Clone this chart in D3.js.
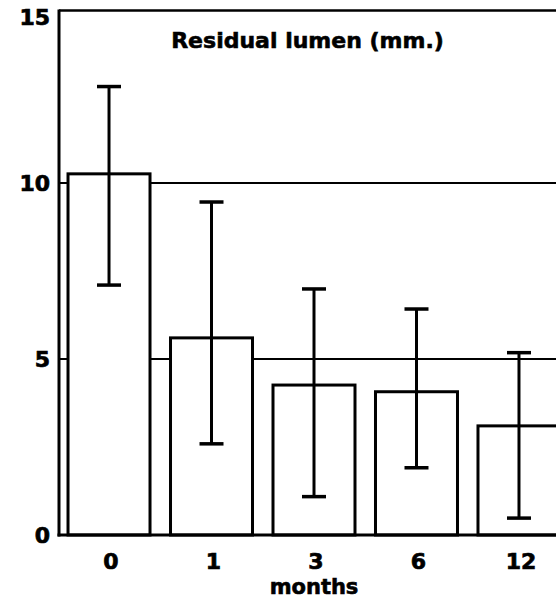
<!DOCTYPE html>
<html>
<head>
<meta charset="utf-8">
<script src="https://cdn.jsdelivr.net/npm/d3@7/dist/d3.min.js"></script>
<style>
  html, body { margin: 0; padding: 0; background: #fff; }
  svg { display: block; }
  text { font-family: "DejaVu Sans", sans-serif; font-weight: bold; fill: #000; }
</style>
</head>
<body>
<script>
// ---- data ----
const categories = ["0", "1", "3", "6", "12"];
const meanValues = [10.26, 5.6, 4.26, 4.07, 3.1];
const upperValues = [12.74, 9.46, 6.99, 6.42, 5.18];
const lowerValues = [7.1, 2.59, 1.09, 1.91, 0.48];
const yTicks = [0, 5, 10, 15];
const gridValues = [5, 10];
const titleText = "Residual lumen (mm.)";
const xAxisLabel = "months";

// ---- layout ----
const W = 556, H = 599;
const svg = d3.select("body").append("svg").attr("width", W).attr("height", H);

const x = d3.scaleBand()
  .domain(categories)
  .range([59, 569])
  .paddingInner(0.2)
  .paddingOuter(0.088);

const y = d3.scaleLinear().domain([0, 15]).range([535, 7]);
const frameY = y(14.9);

const data = categories.map((c, i) => ({
  c, v: meanValues[i], hi: upperValues[i], lo: lowerValues[i]
}));

// top frame line
svg.append("line")
  .attr("x1", x.range()[0]).attr("x2", W)
  .attr("y1", frameY).attr("y2", frameY)
  .attr("stroke", "#000").attr("stroke-width", 2.5);

// gridlines behind bars
svg.selectAll("line.grid").data(gridValues).join("line")
  .attr("class", "grid")
  .attr("x1", x.range()[0]).attr("x2", W)
  .attr("y1", d => y(d)).attr("y2", d => y(d))
  .attr("stroke", "#000").attr("stroke-width", 2.2);

// bars
svg.selectAll("rect.bar").data(data).join("rect")
  .attr("class", "bar")
  .attr("x", d => x(d.c))
  .attr("y", d => y(d.v))
  .attr("width", x.bandwidth())
  .attr("height", d => y(0) - y(d.v))
  .attr("fill", "#fff")
  .attr("stroke", "#000")
  .attr("stroke-width", 3);

// error bars
const cx = d => x(d.c) + x.bandwidth() / 2;
const capW = 24;
const eb = svg.selectAll("g.err").data(data).join("g").attr("class", "err");
eb.append("line")
  .attr("x1", cx).attr("x2", cx)
  .attr("y1", d => y(d.hi)).attr("y2", d => y(d.lo))
  .attr("stroke", "#000").attr("stroke-width", 3);
eb.append("line")
  .attr("x1", d => cx(d) - capW / 2).attr("x2", d => cx(d) + capW / 2)
  .attr("y1", d => y(d.hi)).attr("y2", d => y(d.hi))
  .attr("stroke", "#000").attr("stroke-width", 3.5);
eb.append("line")
  .attr("x1", d => cx(d) - capW / 2).attr("x2", d => cx(d) + capW / 2)
  .attr("y1", d => y(d.lo)).attr("y2", d => y(d.lo))
  .attr("stroke", "#000").attr("stroke-width", 3.5);

// axes spines
svg.append("line")
  .attr("x1", x.range()[0]).attr("x2", x.range()[0])
  .attr("y1", frameY - 1).attr("y2", y(0) + 1.5)
  .attr("stroke", "#000").attr("stroke-width", 3);
svg.append("line")
  .attr("x1", x.range()[0] - 1.5).attr("x2", W)
  .attr("y1", y(0)).attr("y2", y(0))
  .attr("stroke", "#000").attr("stroke-width", 3);

// y axis labels via d3 axis
const yAxis = d3.axisLeft(y).tickValues(yTicks).tickSize(0).tickPadding(9).tickFormat(d3.format("d"));
const gy = svg.append("g").attr("transform", `translate(${x.range()[0]},0)`).call(yAxis);
gy.select(".domain").remove();
gy.selectAll("text")
  .attr("font-size", 22).attr("font-family", "DejaVu Sans").attr("font-weight", "bold")
  .attr("fill", "#000").attr("stroke", "#000").attr("stroke-width", 0.7);
gy.selectAll(".tick").filter(d => d === 15).select("text").attr("y", 10);

// x axis labels via d3 axis
const xAxis = d3.axisBottom(x).tickSize(0).tickPadding(18);
const gx = svg.append("g").attr("transform", `translate(2,${y(0)})`).call(xAxis);
gx.select(".domain").remove();
gx.selectAll("text")
  .attr("font-size", 22).attr("font-family", "DejaVu Sans").attr("font-weight", "bold")
  .attr("fill", "#000").attr("stroke", "#000").attr("stroke-width", 0.7);

// axis title
svg.append("text")
  .attr("x", x("3") + x.bandwidth() / 2)
  .attr("y", 594)
  .attr("text-anchor", "middle")
  .attr("font-size", 21)
  .attr("stroke", "#000").attr("stroke-width", 0.6)
  .text(xAxisLabel);

// chart title
svg.append("text")
  .attr("x", (x.range()[0] + W) / 2)
  .attr("y", 48)
  .attr("text-anchor", "middle")
  .attr("font-size", 22)
  .attr("stroke", "#000").attr("stroke-width", 0.6)
  .text(titleText);
</script>
</body>
</html>
